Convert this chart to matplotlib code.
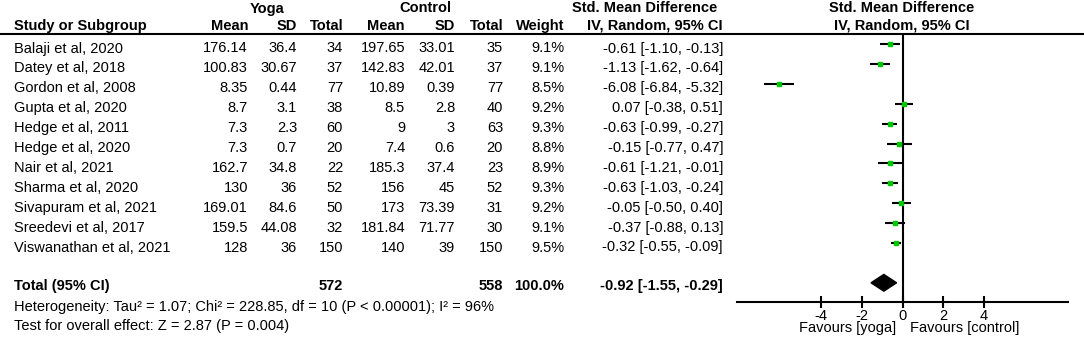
import matplotlib.pyplot as plt
import matplotlib as mpl
from matplotlib.patches import Polygon

mpl.rcParams.update({
    "font.family": ["Liberation Sans", "DejaVu Sans"],
    "font.size": 10.5,
})

studies = ["Balaji et al, 2020", "Datey et al, 2018", "Gordon et al, 2008",
           "Gupta et al, 2020", "Hedge et al, 2011", "Hedge et al, 2020",
           "Nair et al, 2021", "Sharma et al, 2020", "Sivapuram et al, 2021",
           "Sreedevi et al, 2017", "Viswanathan et al, 2021"]
yoga_mean = [176.14, 100.83, 8.35, 8.7, 7.3, 7.3, 162.7, 130, 169.01, 159.5, 128]
yoga_sd = [36.4, 30.67, 0.44, 3.1, 2.3, 0.7, 34.8, 36, 84.6, 44.08, 36]
yoga_n = [34, 37, 77, 38, 60, 20, 22, 52, 50, 32, 150]
ctrl_mean = [197.65, 142.83, 10.89, 8.5, 9, 7.4, 185.3, 156, 173, 181.84, 140]
ctrl_sd = [33.01, 42.01, 0.39, 2.8, 3, 0.6, 37.4, 45, 73.39, 71.77, 39]
ctrl_n = [35, 37, 77, 40, 63, 20, 23, 52, 31, 30, 150]
weight = [9.1, 9.1, 8.5, 9.2, 9.3, 8.8, 8.9, 9.3, 9.2, 9.1, 9.5]
smd = [-0.61, -1.13, -6.08, 0.07, -0.63, -0.15, -0.61, -0.63, -0.05, -0.37, -0.32]
ci_lo = [-1.10, -1.62, -6.84, -0.38, -0.99, -0.77, -1.21, -1.03, -0.50, -0.88, -0.55]
ci_hi = [-0.13, -0.64, -5.32, 0.51, -0.27, 0.47, -0.01, -0.24, 0.40, 0.13, -0.09]

total_yoga_n = 572
total_ctrl_n = 558
total_weight = 100.0
total_smd, total_lo, total_hi = -0.92, -1.55, -0.29
heterogeneity = "Heterogeneity: Tau\u00b2 = 1.07; Chi\u00b2 = 228.85, df = 10 (P < 0.00001); I\u00b2 = 96%"
overall = "Test for overall effect: Z = 2.87 (P = 0.004)"
xticks = [-4, -2, 0, 2, 4]

W, H = 1084, 345
fig = plt.figure(figsize=(W / 100, H / 100), dpi=100)

# text layer in pixel coordinates
bg = fig.add_axes([0, 0, 1, 1])
bg.set_xlim(0, W)
bg.set_ylim(H, 0)
bg.set_axis_off()

row0, step = 52.5, 19.9
bold = dict(fontweight="bold")

# headers
bg.text(267, 12.5, "Yoga", ha="center", va="baseline", **bold)
bg.text(425, 12.5, "Control", ha="center", va="baseline", **bold)
bg.text(645, 12.5, "Std. Mean Difference", ha="center", va="baseline", **bold)
bg.text(902, 12.5, "Std. Mean Difference", ha="center", va="baseline", **bold)
hy = 30
bg.text(14, hy, "Study or Subgroup", ha="left", va="baseline", **bold)
for x, s in [(248, "Mean"), (297, "SD"), (343, "Total"), (405, "Mean"),
             (455, "SD"), (503, "Total"), (564, "Weight")]:
    bg.text(x, hy, s, ha="right", va="baseline", **bold)
bg.text(723, hy, "IV, Random, 95% CI", ha="right", va="baseline", **bold)
bg.text(902, hy, "IV, Random, 95% CI", ha="center", va="baseline", **bold)
bg.plot([0, W], [33.5, 33.5], color="black", lw=1.5)

cols = [248, 297, 343, 405, 455, 503, 564]
for i, name in enumerate(studies):
    y = row0 + i * step
    bg.text(14, y, name, ha="left", va="baseline")
    vals = [f"{yoga_mean[i]:g}", f"{yoga_sd[i]:g}", f"{yoga_n[i]}",
            f"{ctrl_mean[i]:g}", f"{ctrl_sd[i]:g}", f"{ctrl_n[i]}",
            f"{weight[i]:.1f}%"]
    for x, s in zip(cols, vals):
        bg.text(x, y, s, ha="right", va="baseline")
    bg.text(723, y, f"{smd[i]:.2f} [{ci_lo[i]:.2f}, {ci_hi[i]:.2f}]",
            ha="right", va="baseline")

ty = 290
bg.text(14, ty, "Total (95% CI)", ha="left", va="baseline", **bold)
bg.text(343, ty, f"{total_yoga_n}", ha="right", va="baseline", **bold)
bg.text(503, ty, f"{total_ctrl_n}", ha="right", va="baseline", **bold)
bg.text(564, ty, f"{total_weight:.1f}%", ha="right", va="baseline", **bold)
bg.text(723, ty, f"{total_smd:.2f} [{total_lo:.2f}, {total_hi:.2f}]",
        ha="right", va="baseline", **bold)
bg.text(14, 310.5, heterogeneity, ha="left", va="baseline")
bg.text(14, 330, overall, ha="left", va="baseline")

bg.text(896, 332, "Favours [yoga]", ha="right", va="baseline")
bg.text(910, 332, "Favours [control]", ha="left", va="baseline")

# forest plot axes
x0, x1 = 737, 1068
ytop, ybot = 33.5, 302
ax = fig.add_axes([x0 / W, (H - ybot) / H, (x1 - x0) / W, (ybot - ytop) / H])
ax.patch.set_alpha(0)
ax.set_xlim(-8.15, 8.15)
mrow0 = 44
ax.set_ylim((ybot - mrow0) / step, (ytop - mrow0) / step)
for s in ["top", "left", "right"]:
    ax.spines[s].set_visible(False)
ax.spines["bottom"].set_linewidth(1.5)
ax.set_yticks([])
ax.set_xticks(xticks)
ax.set_xticklabels([str(t) for t in xticks])
ax.tick_params(axis="x", direction="inout", length=8, width=1.5, pad=1,
               labelsize=10.5)

ax.axvline(0, color="black", lw=1.5)
rows = list(range(len(studies)))
ax.hlines(rows, ci_lo, ci_hi, color="black", lw=1.5)
ax.plot(smd, rows, ls="none", marker="s", ms=3.2, color="#00c800", mec="#00c800")

trow = len(studies) + 1
h = 0.42
ax.add_patch(Polygon([(total_lo, trow), (total_smd, trow - h),
                      (total_hi, trow), (total_smd, trow + h)],
                     closed=True, fc="black", ec="black"))

fig.savefig("out.png", dpi=100)
